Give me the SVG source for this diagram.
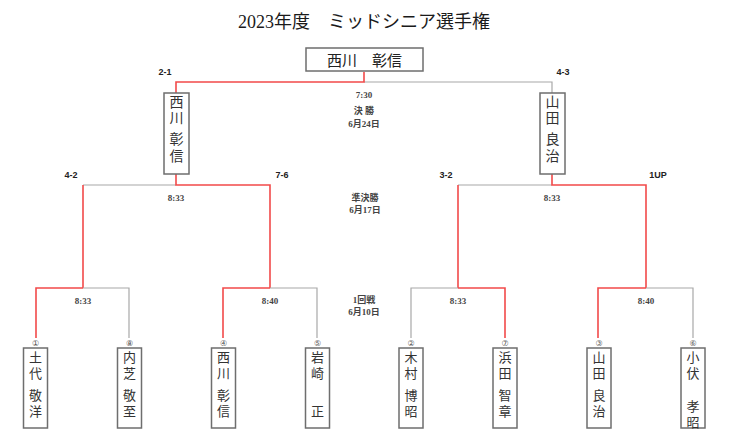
<svg xmlns="http://www.w3.org/2000/svg" width="750" height="445" viewBox="0 0 750 445">
<style>
.bg{fill:#fff}
.box{fill:#fff;stroke:#6e6e6e;stroke-width:1.5}
.red{stroke:#f24a4a;stroke-width:1.6;fill:none}
.gray{stroke:#a8a8a8;stroke-width:1.2;fill:none}
.title{font-family:"Liberation Serif","Noto Sans CJK JP",serif;font-size:18px;fill:#1a1a1a;text-anchor:middle}
.champ{font-family:"Liberation Serif","Noto Sans CJK JP",serif;font-size:15px;fill:#222;text-anchor:middle}
.nm{font-family:"Liberation Serif","Noto Sans CJK JP",serif;font-size:13px;fill:#333;text-anchor:middle}
.fn{font-family:"Liberation Serif","Noto Sans CJK JP",serif;font-size:14px;fill:#333;text-anchor:middle}
.sc{font-family:"Liberation Sans","Noto Sans CJK JP",sans-serif;font-size:9px;font-weight:bold;fill:#222;text-anchor:middle}
.tm{font-family:"Liberation Serif","Noto Sans CJK JP",serif;font-size:9px;font-weight:bold;fill:#444;text-anchor:middle}
.cn{font-family:"DejaVu Sans","Noto Sans CJK JP",sans-serif;font-size:8px;fill:#555;text-anchor:middle}
</style>
<rect class="bg" x="0" y="0" width="750" height="445"/>
<text class="title" x="364" y="28">2023年度　ミッドシニア選手権</text>

<g id="connectors">
<path class="gray" d="M364 82H552V93"/>
<path class="red" d="M364 72V82H176V93"/>
<path class="gray" d="M176 185H83M552 185H458"/>
<path class="red" d="M176 174V185H270V288M83 185V288M552 174V185H646V288M458 185V288"/>
<path class="gray" d="M83 288H129V338M270 288H317V338M458 288H411V338M646 288H693V338"/>
<path class="red" d="M83 288H36V338M270 288H223V338M458 288H505V338M646 288H598V338"/>
</g>

<g id="labels">
<text class="sc" x="165" y="75">2-1</text>
<text class="sc" x="563" y="75">4-3</text>
<text class="sc" x="71" y="178">4-2</text>
<text class="sc" x="282" y="178">7-6</text>
<text class="sc" x="446" y="178">3-2</text>
<text class="sc" x="658" y="178">1UP</text>
<text class="tm" x="364" y="97.5">7:30</text>
<text class="tm" x="364" y="114">決 勝</text>
<text class="tm" x="364" y="126.5">6月24日</text>
<text class="tm" x="176" y="201">8:33</text>
<text class="tm" x="552" y="201">8:33</text>
<text class="tm" x="365" y="201">準決勝</text>
<text class="tm" x="365" y="213">6月17日</text>
<text class="tm" x="83" y="304">8:33</text>
<text class="tm" x="270" y="304">8:40</text>
<text class="tm" x="458" y="304">8:33</text>
<text class="tm" x="646" y="304">8:40</text>
<text class="tm" x="364" y="303">1回戦</text>
<text class="tm" x="364" y="315">6月10日</text>
</g>

<g id="champion">
<rect class="box" x="306" y="48" width="117" height="23"/>
<text class="champ" x="364.5" y="66">西川　彰信</text>
</g>

<g id="finalist-left">
<rect class="box" x="164" y="93" width="25" height="81"/>
<text class="fn" x="176.5" y="107">西</text><text class="fn" x="176.5" y="123">川</text>
<text class="fn" x="176.5" y="144">彰</text><text class="fn" x="176.5" y="161">信</text>
</g>
<g id="finalist-right">
<rect class="box" x="540" y="93" width="25" height="81"/>
<text class="fn" x="552.5" y="107">山</text><text class="fn" x="552.5" y="123">田</text>
<text class="fn" x="552.5" y="144">良</text><text class="fn" x="552.5" y="161">治</text>
</g>

<g id="p1">
<text class="cn" x="35.5" y="346">①</text>
<rect class="box" x="23.5" y="348" width="24" height="80"/>
<text class="nm" x="35.5" y="362">土</text><text class="nm" x="35.5" y="378">代</text>
<text class="nm" x="35.5" y="400">敬</text><text class="nm" x="35.5" y="416">洋</text>
</g>
<g id="p8">
<text class="cn" x="129.5" y="346">⑧</text>
<rect class="box" x="117.5" y="348" width="24" height="80"/>
<text class="nm" x="129.5" y="362">内</text><text class="nm" x="129.5" y="378">芝</text>
<text class="nm" x="129.5" y="400">敬</text><text class="nm" x="129.5" y="416">至</text>
</g>
<g id="p4">
<text class="cn" x="223.5" y="346">④</text>
<rect class="box" x="211.5" y="348" width="24" height="80"/>
<text class="nm" x="223.5" y="362">西</text><text class="nm" x="223.5" y="378">川</text>
<text class="nm" x="223.5" y="400">彰</text><text class="nm" x="223.5" y="416">信</text>
</g>
<g id="p5">
<text class="cn" x="317.5" y="346">⑤</text>
<rect class="box" x="305.5" y="348" width="24" height="80"/>
<text class="nm" x="317.5" y="362">岩</text><text class="nm" x="317.5" y="378">崎</text>
<text class="nm" x="317.5" y="416">正</text>
</g>
<g id="p2">
<text class="cn" x="411" y="346">②</text>
<rect class="box" x="399" y="348" width="24" height="80"/>
<text class="nm" x="411" y="362">木</text><text class="nm" x="411" y="378">村</text>
<text class="nm" x="411" y="400">博</text><text class="nm" x="411" y="416">昭</text>
</g>
<g id="p7">
<text class="cn" x="505" y="346">⑦</text>
<rect class="box" x="493" y="348" width="24" height="80"/>
<text class="nm" x="505" y="362">浜</text><text class="nm" x="505" y="378">田</text>
<text class="nm" x="505" y="400">智</text><text class="nm" x="505" y="416">章</text>
</g>
<g id="p3">
<text class="cn" x="599" y="346">③</text>
<rect class="box" x="587" y="348" width="24" height="80"/>
<text class="nm" x="599" y="362">山</text><text class="nm" x="599" y="378">田</text>
<text class="nm" x="599" y="400">良</text><text class="nm" x="599" y="416">治</text>
</g>
<g id="p6">
<text class="cn" x="693" y="346">⑥</text>
<rect class="box" x="681" y="348" width="24" height="80"/>
<text class="nm" x="693" y="362">小</text><text class="nm" x="693" y="378">伏</text>
<text class="nm" x="693" y="411">孝</text><text class="nm" x="693" y="427">昭</text>
</g>
</svg>
